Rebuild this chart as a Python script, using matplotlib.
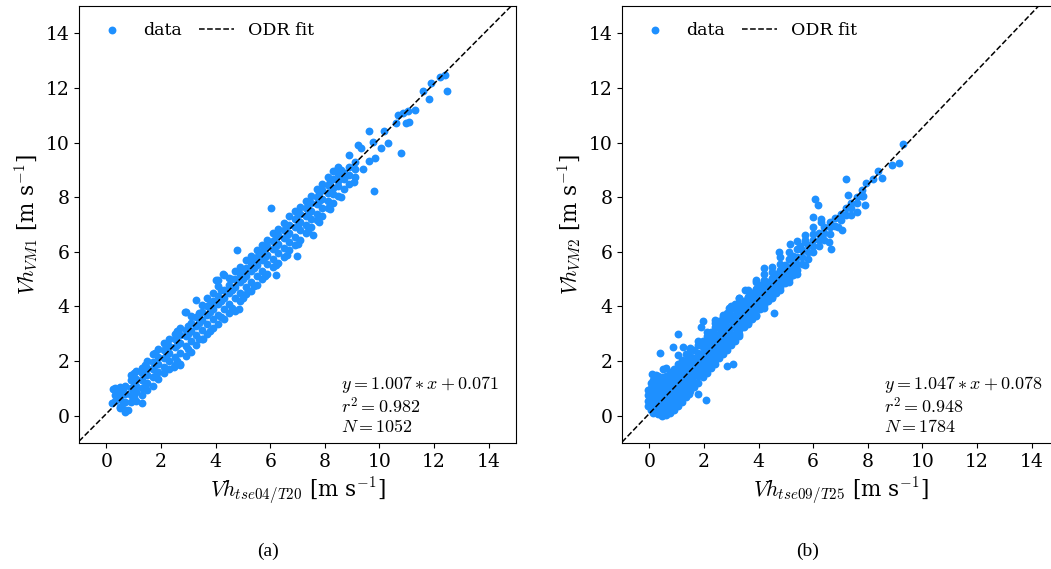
import numpy as np
import matplotlib
matplotlib.use("Agg")
import matplotlib.pyplot as plt

plt.rcParams["font.family"] = "DejaVu Serif"
plt.rcParams["mathtext.fontset"] = "cm"

# ---- panel (a): Vh_tse04/T20 vs Vh_VM1 ----
a_cols_x = [0.3, 0.5, 0.7, 0.9, 1.1, 1.3, 1.5, 1.7, 1.9, 2.1, 2.3, 2.5, 2.7, 2.9,
            3.1, 3.3, 3.5, 3.7, 3.9, 4.1, 4.3, 4.5, 4.7, 4.9, 5.1, 5.3, 5.5, 5.7,
            5.9, 6.1, 6.3, 6.5, 6.7, 6.9, 7.1, 7.3, 7.5, 7.7, 7.9, 8.1, 8.3, 8.5,
            8.7, 8.9, 9.1]
a_cols_y = [
    [0.55, 0.75, 1.0], [0.3, 0.6, 0.85, 1.05], [0.2, 0.5, 0.8, 1.1],
    [0.5, 0.75, 1.0, 1.3, 1.5], [0.55, 0.85, 1.1, 1.35, 1.65],
    [0.75, 1.0, 1.3, 1.55, 1.75], [0.95, 1.2, 1.5, 1.75, 2.0],
    [1.1, 1.4, 1.7, 1.95, 2.25], [1.35, 1.6, 1.9, 2.15, 2.45],
    [1.55, 1.8, 2.1, 2.4, 2.65], [1.7, 2.0, 2.3, 2.55, 2.8],
    [1.85, 2.15, 2.5, 2.8, 3.0], [1.9, 2.3, 2.65, 2.95, 3.2],
    [2.2, 2.55, 2.9, 3.15, 3.8], [2.35, 2.75, 3.1, 3.4, 3.65],
    [2.6, 2.95, 3.3, 3.6, 4.25], [2.8, 3.15, 3.5, 3.8, 4.05],
    [3.0, 3.35, 3.7, 4.0, 4.3], [3.2, 3.55, 3.9, 4.2, 4.5],
    [3.35, 3.7, 4.1, 4.4, 4.75, 4.95], [3.55, 3.9, 4.3, 4.6, 5.15],
    [3.75, 4.1, 4.5, 4.8, 5.05], [3.85, 4.3, 4.7, 5.0, 5.3],
    [4.2, 4.5, 4.9, 5.2, 5.45], [4.45, 4.7, 5.1, 5.4, 5.7],
    [4.55, 4.9, 5.3, 5.6, 5.85], [4.8, 5.1, 5.5, 5.8, 6.05],
    [5.0, 5.3, 5.7, 6.0, 6.25], [5.2, 5.55, 5.9, 6.2, 6.45],
    [5.45, 5.75, 6.1, 6.4, 6.7], [5.6, 5.95, 6.3, 6.6, 6.85],
    [5.8, 6.15, 6.5, 6.8, 7.05], [6.05, 6.35, 6.7, 7.0, 7.3],
    [6.25, 6.55, 6.9, 7.2, 7.5], [6.45, 6.8, 7.1, 7.4, 7.65],
    [6.7, 7.0, 7.3, 7.6, 7.85], [6.9, 7.2, 7.5, 7.8, 8.05],
    [7.15, 7.4, 7.75, 8.0, 8.3], [7.3, 7.6, 7.95, 8.25, 8.5],
    [7.6, 7.85, 8.15, 8.45, 8.75], [7.8, 8.1, 8.35, 8.65, 8.95],
    [8.05, 8.4, 8.6, 8.85, 9.1], [8.3, 8.65, 8.9], [8.5, 8.8, 9.1],
    [8.75, 9.05, 9.3]]
# second, interleaved reading of the dense band
a_mid_x = [0.6, 1.0, 1.4, 1.8, 2.2, 2.6, 3.0, 3.4, 3.8, 4.2, 4.6, 5.0, 5.4, 5.8,
           6.2, 6.6, 7.0, 7.4, 7.8, 8.2, 8.6]
a_mid_y = [
    [0.45, 0.95], [0.7, 1.2, 1.55], [1.1, 1.6, 1.85], [1.45, 1.85, 2.3],
    [1.7, 2.2, 2.55], [2.0, 2.6, 3.1], [2.45, 3.0, 3.3], [2.8, 3.4, 3.75],
    [3.1, 3.8, 4.1], [3.6, 4.2, 4.6], [3.95, 4.6, 5.0], [4.3, 5.0, 5.35],
    [4.75, 5.4, 5.75], [5.1, 5.8, 6.15], [5.5, 6.2, 6.55], [5.9, 6.6, 6.95],
    [6.3, 7.0, 7.35], [6.75, 7.4, 7.75], [7.1, 7.85, 8.15], [7.55, 8.2, 8.6],
    [8.0, 8.7, 9.0]]
a_out_x = [12.49, 12.41, 12.21, 11.88, 11.8, 11.59, 11.29, 11.04, 10.86, 10.67,
           10.61, 10.98, 11.1, 9.63, 10.15, 9.75, 10.31, 10.06, 10.8, 9.2, 9.33,
           8.9, 9.63, 9.82, 9.39, 9.07, 9.79, 8.47, 8.71, 6.03, 7.57, 4.79, 6.97,
           6.2, 4.02, 4.28, 4.85, 3.53, 2.89, 0.23, 0.2, 1.3, 0.69, 0.81, 0.5,
           2.71, 2.46]
a_out_y = [11.89, 12.46, 12.39, 12.17, 11.6, 11.87, 11.2, 11.14, 11.08, 11.02,
           10.72, 10.73, 10.74, 10.44, 10.44, 10.01, 9.99, 9.81, 9.63, 9.9, 9.81,
           9.56, 9.32, 9.44, 9.02, 8.57, 8.21, 9.08, 8.9, 7.59, 6.63, 6.05, 5.84,
           5.14, 4.98, 5.18, 3.9, 2.81, 3.81, 0.99, 0.45, 0.45, 0.13, 0.21, 0.29,
           1.87, 1.78]
a_slope, a_icpt, a_r2, a_n = 1.007, 0.071, 0.982, 1052

# ---- panel (b): Vh_tse09/T25 vs Vh_VM2 ----
b_cols_x = [-0.05, 0.05, 0.15, 0.3, 0.45, 0.6, 0.75, 0.9, 1.05, 1.2, 1.35, 1.5,
            1.65, 1.8, 1.95, 2.1, 2.25, 2.4, 2.55, 2.7, 2.85, 3.0, 3.15, 3.3,
            3.45, 3.6, 3.75, 3.9, 4.05, 4.2, 4.35, 4.5, 4.65, 4.8, 4.95, 5.1,
            5.25, 5.4, 5.6, 5.8, 6.0, 6.2, 6.4, 6.6, 6.8, 7.0, 7.2, 7.4, 7.6, 7.8]
b_cols_y = [
    [0.35, 0.55, 0.75, 0.95], [0.2, 0.4, 0.6, 0.8, 1.0, 1.2],
    [0.1, 0.3, 0.5, 0.7, 0.9, 1.1, 1.3],
    [0.05, 0.25, 0.45, 0.65, 0.85, 1.05, 1.25, 1.45],
    [0.0, 0.2, 0.4, 0.6, 0.8, 1.0, 1.2, 1.4],
    [0.02, 0.25, 0.45, 0.65, 0.85, 1.05, 1.25, 1.45],
    [0.1, 0.35, 0.55, 0.75, 0.95, 1.15, 1.35, 1.6],
    [0.2, 0.45, 0.7, 0.9, 1.1, 1.3, 1.5, 1.7],
    [0.35, 0.6, 0.85, 1.05, 1.25, 1.45, 1.7, 1.9],
    [0.5, 0.75, 1.0, 1.2, 1.4, 1.6, 1.85, 2.05],
    [0.7, 0.9, 1.15, 1.35, 1.55, 1.75, 2.0, 2.25],
    [0.9, 1.1, 1.3, 1.55, 1.75, 1.95, 2.2],
    [1.05, 1.25, 1.5, 1.7, 1.9, 2.1, 2.4],
    [1.2, 1.45, 1.65, 1.9, 2.1, 2.3, 2.6],
    [1.4, 1.6, 1.8, 2.05, 2.3, 2.5, 2.75],
    [1.55, 1.8, 2.0, 2.2, 2.45, 2.7, 2.9],
    [1.75, 1.95, 2.15, 2.4, 2.6, 2.85, 3.05],
    [1.9, 2.1, 2.35, 2.55, 2.8, 3.0, 3.25],
    [2.1, 2.3, 2.5, 2.75, 2.95, 3.2, 3.45],
    [2.25, 2.45, 2.7, 2.9, 3.15, 3.4, 3.6],
    [2.4, 2.6, 2.85, 3.05, 3.3, 3.55, 3.75],
    [2.6, 2.8, 3.0, 3.25, 3.5, 3.7, 3.95],
    [2.75, 2.95, 3.2, 3.4, 3.65, 3.9, 4.1],
    [2.9, 3.15, 3.35, 3.6, 3.85, 4.05, 4.3],
    [3.25, 3.5, 3.7, 3.95, 4.2], [3.4, 3.65, 3.85, 4.1, 4.35],
    [3.55, 3.8, 4.0, 4.25, 4.5], [3.7, 3.95, 4.15, 4.4, 4.65],
    [3.9, 4.1, 4.3, 4.55, 4.8], [4.05, 4.3, 4.5, 4.75],
    [4.2, 4.45, 4.65, 4.9], [4.35, 4.6, 4.8, 5.05],
    [4.5, 4.75, 4.95, 5.2], [4.7, 4.9, 5.1, 5.35],
    [4.85, 5.05, 5.3, 5.5], [5.0, 5.25, 5.45],
    [5.15, 5.4, 5.6, 5.85], [5.35, 5.55, 5.8],
    [5.55, 5.8, 6.05], [5.75, 6.0, 6.25], [6.0, 6.2, 6.45],
    [6.2, 6.45, 6.7], [6.45, 6.7, 6.9], [6.65, 6.9, 7.1],
    [6.95, 7.25], [7.15, 7.4], [7.35, 7.6], [7.6, 7.8], [7.8, 8.0],
    [8.05, 8.25]]
# fringe of the (b) band, above and below the core
b_mid_x = [1.5, 1.8, 2.1, 2.4, 2.7, 3.0, 3.3, 3.6, 3.9, 4.2, 4.5, 4.8, 5.1, 5.4,
           5.7, 6.0, 6.3]
b_mid_y = [
    [2.45], [2.75], [3.05, 1.75], [3.4, 2.05], [3.7, 2.4], [4.0, 2.7],
    [4.3, 3.0], [4.6, 4.35, 3.35], [4.9, 4.65, 3.65], [5.2, 4.95, 3.95],
    [5.45, 5.25, 4.3], [5.8, 5.55, 4.6], [6.0, 5.75, 4.9], [6.4, 6.1, 5.2],
    [6.6, 6.35, 5.5], [6.9, 6.65], [7.1, 6.5]]
b_out_x = [9.28, 9.13, 8.89, 8.36, 8.52, 8.2, 7.2, 7.94, 7.9, 7.81, 7.26, 6.08,
           6.17, 5.98, 6.65, 6.9, 7.39, 6.59, 4.76, 5.15, 4.21, 4.58, 1.04, 0.39,
           0.88, 1.98, 1.89, 1.49, 1.06, 0.09, 0.51, 2.83, 3.08, 2.08, 1.77, 1.47,
           0.25, 0.6, 1.25, 2.4, 2.9, 3.5, 3.9, 5.5, 5.7, 6.3, 7.05, 7.6]
b_out_y = [9.96, 9.24, 9.17, 8.96, 8.69, 8.65, 8.68, 8.53, 7.73, 8.05, 8.07, 7.95,
           7.71, 7.26, 6.11, 6.9, 7.36, 6.35, 6.01, 6.29, 5.42, 3.77, 2.98, 2.29,
           2.51, 3.48, 3.24, 2.47, 2.21, 1.53, 1.72, 1.83, 1.89, 0.57, 0.78, 0.78,
           1.5, 1.75, 2.5, 3.5, 3.95, 4.6, 4.95, 6.2, 6.45, 7.2, 6.8, 7.45]
b_slope, b_icpt, b_r2, b_n = 1.047, 0.078, 0.948, 1784


def expand(groups, out_x, out_y):
    xs, ys = [], []
    for cols_x, cols_y in groups:
        for x, col in zip(cols_x, cols_y):
            xs += [x] * len(col)
            ys += list(col)
    return np.array(xs + list(out_x)), np.array(ys + list(out_y))


fig = plt.figure(figsize=(10.51, 5.69), dpi=100)
ax_a = fig.add_axes([79 / 1051, 1 - 443 / 569, 437 / 1051, 437 / 569])
ax_b = fig.add_axes([622 / 1051, 1 - 443 / 569, 437 / 1051, 437 / 569])

panels = [
    (ax_a, expand([(a_cols_x, a_cols_y), (a_mid_x, a_mid_y)], a_out_x, a_out_y),
     a_slope, a_icpt, a_r2, a_n,
     r"$Vh_{tse04/T20}$ [m s$^{-1}$]", r"$Vh_{VM1}$ [m s$^{-1}$]", "(a)", 268),
    (ax_b, expand([(b_cols_x, b_cols_y), (b_mid_x, b_mid_y)], b_out_x, b_out_y),
     b_slope, b_icpt, b_r2, b_n,
     r"$Vh_{tse09/T25}$ [m s$^{-1}$]", r"$Vh_{VM2}$ [m s$^{-1}$]", "(b)", 808),
]

for ax, (px, py), slope, icpt, r2, n, xlab, ylab, tag, tag_x in panels:
    ax.scatter(px, py, s=32, color="#1E90FF", linewidths=0, label="data", zorder=2)
    xl = np.array([-1.0, 15.0])
    ax.plot(xl, slope * xl + icpt, "k--", lw=1.1, label="ODR fit", zorder=3)
    ax.set_xlim(-1, 15)
    ax.set_ylim(-1, 15)
    ax.set_xticks(range(0, 15, 2))
    ax.set_yticks(range(0, 15, 2))
    ax.tick_params(labelsize=13.5)
    ax.set_xlabel(xlab, fontsize=15.5)
    ax.set_ylabel(ylab, fontsize=15.5)
    ax.legend(loc="upper left", ncol=2, frameon=False, fontsize=12.5,
              scatterpoints=1, handlelength=2.0, columnspacing=1.0)
    ax.text(0.60, 0.015,
            "$y = %.3f * x + %.3f$\n$r^2 = %.3f$\n$N = %d$" % (slope, icpt, r2, n),
            transform=ax.transAxes, fontsize=13, va="bottom", ha="left",
            linespacing=1.1)
    fig.text(tag_x / 1051, 1 - 551 / 569, tag, fontsize=14,
             family="Liberation Serif", ha="center", va="center")

fig.savefig("out.png", dpi=100)
